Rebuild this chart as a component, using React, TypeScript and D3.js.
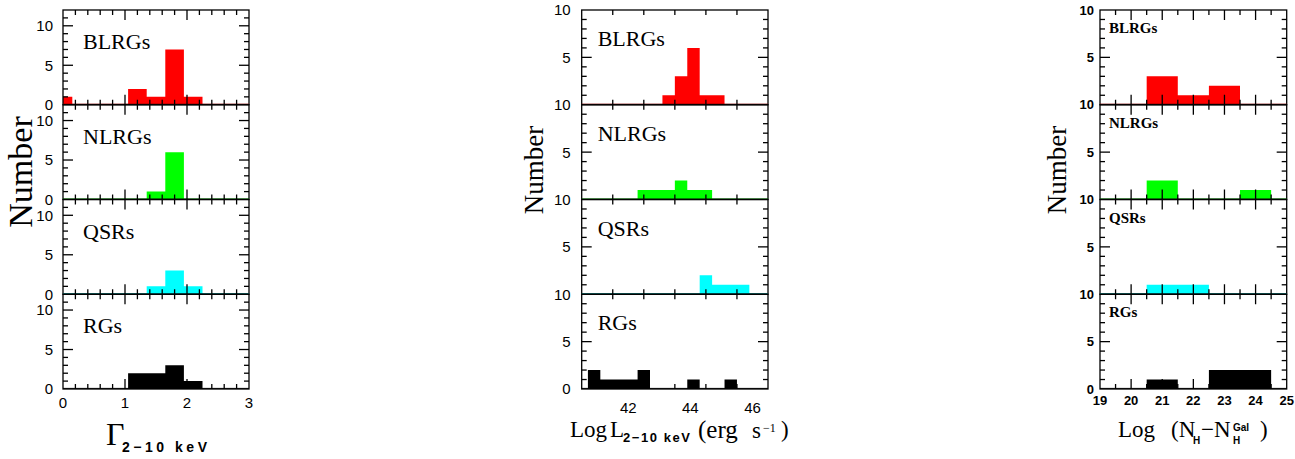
import React, { useEffect, useRef } from "react";
import * as d3 from "d3";

const categories = ["BLRGs", "NLRGs", "QSRs", "RGs"];
const colors = ["#ff0000", "#00ff00", "#00ffff", "#000000"];
const baseColors = ["#7a0000", "#006a00", "#006a6a", "#000000"];

// photon index, bins of 0.3
const gammaEdges = [-0.15, 0.15, 0.45, 0.75, 1.05, 1.35, 1.65, 1.95, 2.25, 2.55];
const gammaBLRG = [1, 0, 0, 0, 2, 1, 7, 1, 0];
const gammaNLRG = [0, 0, 0, 0, 0, 1, 6, 0, 0];
const gammaQSR = [0, 0, 0, 0, 0, 1, 3, 1, 0];
const gammaRG = [0, 0, 0, 0, 2, 2, 3, 1, 0];

// log L(2-10 keV), bins of 0.4
const lumEdges = [40.7, 41.1, 41.5, 41.9, 42.3, 42.7, 43.1, 43.5, 43.9, 44.3, 44.7, 45.1, 45.5, 45.9];
const lumBLRG = [0, 0, 0, 0, 0, 0, 1, 3, 6, 1, 1, 0, 0];
const lumNLRG = [0, 0, 0, 0, 1, 1, 1, 2, 1, 1, 0, 0, 0];
const lumQSR = [0, 0, 0, 0, 0, 0, 0, 0, 0, 2, 1, 1, 1];
const lumRG = [2, 1, 1, 1, 2, 0, 0, 0, 1, 0, 0, 1, 0];

// log intrinsic NH, bins of 1
const nhEdges = [20.5, 21.5, 22.5, 23.5, 24.5];
const nhBLRG = [3, 1, 2, 0];
const nhNLRG = [2, 0, 0, 1];
const nhQSR = [1, 1, 0, 0];
const nhRG = [1, 0, 2, 2];

const gammaTicks = [0, 1, 2, 3];
const lumTicks = [42, 44, 46];
const nhTicks = [19, 20, 21, 22, 23, 24, 25];
const yTicks = [0, 5, 10];

const TOP = 10;
const BOTTOM = 389;
const SANS = "'Liberation Sans', Arial, sans-serif";
const SERIF = "'Liberation Serif', 'Times New Roman', serif";

const columns = [
  {
    x0: 63, x1: 249, domain: [0, 3], yMax: 12, major: 1, minor: 0.2,
    edges: gammaEdges, counts: [gammaBLRG, gammaNLRG, gammaQSR, gammaRG], ticks: gammaTicks,
    tickSize: 15, bold: false, gap: 10, xLabelY: 408,
    catX: 20, catY: 39, catSize: 22, catBold: false,
  },
  {
    x0: 581.7, x1: 768, domain: [40.5, 46.5], yMax: 10, major: 2, minor: 1,
    edges: lumEdges, counts: [lumBLRG, lumNLRG, lumQSR, lumRG], ticks: lumTicks,
    tickSize: 15, bold: false, gap: 11, xLabelY: 413,
    catX: 16, catY: 36, catSize: 22, catBold: false,
  },
  {
    x0: 1100, x1: 1286.7, domain: [19, 25], yMax: 10, major: 1, minor: 0.5,
    edges: nhEdges, counts: [nhBLRG, nhNLRG, nhQSR, nhRG], ticks: nhTicks,
    tickSize: 13, bold: true, gap: 6, xLabelY: 405,
    catX: 9, catY: 23, catSize: 15, catBold: true,
  },
];

export default function App() {
  const ref = useRef<SVGGElement | null>(null);

  useEffect(() => {
    const svg = d3.select(ref.current);
    svg.selectAll("*").remove();
    const ph = (BOTTOM - TOP) / 4;

    columns.forEach((col, ci) => {
      const x = d3.scaleLinear().domain(col.domain).range([col.x0, col.x1]);
      const clipId = `clip${ci}`;
      svg.append("clipPath").attr("id", clipId)
        .append("rect").attr("x", col.x0).attr("y", TOP)
        .attr("width", col.x1 - col.x0).attr("height", BOTTOM - TOP);

      categories.forEach((cat, pi) => {
        const pt = TOP + pi * ph;
        const pb = pt + ph;
        const y = d3.scaleLinear().domain([0, col.yMax]).range([pb, pt]);
        const g = svg.append("g");
        const counts = col.counts[pi];

        // histogram
        const pts = counts.map((c, i) => [col.edges[i], c] as [number, number]);
        pts.push([col.edges[col.edges.length - 1], counts[counts.length - 1]]);
        const area = d3.area<[number, number]>()
          .x((d) => x(d[0])).y0(y(0)).y1((d) => y(d[1]))
          .curve(d3.curveStepAfter);
        g.append("path").attr("d", area(pts) as string)
          .attr("fill", colors[pi]).attr("clip-path", `url(#${clipId})`);

        // frame
        g.append("rect").attr("x", col.x0).attr("y", pt)
          .attr("width", col.x1 - col.x0).attr("height", ph)
          .attr("fill", "none").attr("stroke", "#000").attr("stroke-width", 1.3);
        g.append("line").attr("x1", col.x0).attr("x2", col.x1)
          .attr("y1", pb - 0.6).attr("y2", pb - 0.6)
          .attr("stroke", baseColors[pi]).attr("stroke-width", 1);

        // x ticks, top and bottom
        const minors = d3.range(col.domain[0], col.domain[1] + 1e-6, col.minor)
          .filter((v) => v > col.domain[0] + 1e-6 && v < col.domain[1] - 1e-6);
        minors.forEach((v) => {
          const isMajor = Math.abs(v / col.major - Math.round(v / col.major)) < 1e-6;
          const len = isMajor ? 10 : 5;
          g.append("line").attr("x1", x(v)).attr("x2", x(v))
            .attr("y1", pb).attr("y2", pb - len).attr("stroke", "#000").attr("stroke-width", 1.3);
          g.append("line").attr("x1", x(v)).attr("x2", x(v))
            .attr("y1", pt).attr("y2", pt + len).attr("stroke", "#000").attr("stroke-width", 1.3);
        });

        // y ticks, left and right
        d3.range(1, col.yMax).forEach((v) => {
          const len = v % 5 === 0 ? 10 : 5;
          [[col.x0, 1], [col.x1, -1]].forEach(([xx, s]) => {
            g.append("line").attr("x1", xx).attr("x2", xx + s * len)
              .attr("y1", y(v)).attr("y2", y(v)).attr("stroke", "#000").attr("stroke-width", 1.3);
          });
        });

        // y tick labels; a "0" that would sit under the next panel's "10" is left out
        yTicks
          .filter((v) => !(v === 0 && pi < 3 && col.yMax === 10))
          .forEach((v) => {
            g.append("text").attr("x", col.x0 - col.gap).attr("y", y(v))
              .attr("dy", "0.36em").attr("text-anchor", "end")
              .attr("font-family", SANS).attr("font-size", col.tickSize)
              .attr("font-weight", col.bold ? "bold" : "normal")
              .text(v);
          });

        // category label
        g.append("text").attr("x", col.x0 + col.catX).attr("y", pt + col.catY)
          .attr("font-family", SERIF).attr("font-size", col.catSize)
          .attr("font-weight", col.catBold ? "bold" : "normal")
          .text(cat);

        if (pi === 3) {
          col.ticks.forEach((v) => {
            g.append("text").attr("x", x(v)).attr("y", col.xLabelY)
              .attr("text-anchor", "middle")
              .attr("font-family", SANS).attr("font-size", col.tickSize)
              .attr("font-weight", col.bold ? "bold" : "normal")
              .text(v);
          });
        }
      });
    });
  }, []);

  return (
    <svg width={1295} height={459}
      style={{ position: "absolute", left: 0, top: 0, background: "#fff" }}>
      <g ref={ref} />
      {/* y titles */}
      <text transform="translate(32,172) rotate(-90)" textAnchor="middle"
        fontFamily={SERIF} fontSize={34}>Number</text>
      <text transform="translate(543,170) rotate(-90)" textAnchor="middle"
        fontFamily={SERIF} fontSize={27}>Number</text>
      <text transform="translate(1066,170) rotate(-90)" textAnchor="middle"
        fontFamily={SERIF} fontSize={27}>Number</text>

      {/* x titles */}
      <text x={106} y={445} fontFamily={SERIF} fontSize={32}>Γ</text>
      <text x={122} y={452} fontFamily={SANS} fontSize={14} fontWeight="bold"
        textLength={85} lengthAdjust="spacing">2−10 keV</text>

      <text x={570} y={437} fontFamily={SERIF} fontSize={23}>Log</text>
      <text x={610} y={437} fontFamily={SERIF} fontSize={23}>L</text>
      <text x={623} y={442} fontFamily={SANS} fontSize={13} fontWeight="bold"
        textLength={67} lengthAdjust="spacing">2−10 keV</text>
      <text x={698} y={438} fontFamily={SERIF} fontSize={25}>(erg</text>
      <text x={752} y={438} fontFamily={SERIF} fontSize={23}>s</text>
      <text x={763} y={432} fontFamily={SERIF} fontSize={12}>−1</text>
      <text x={781} y={437} fontFamily={SERIF} fontSize={23}>)</text>

      <text x={1118} y={437} fontFamily={SERIF} fontSize={23}>Log</text>
      <text x={1171} y={437} fontFamily={SERIF} fontSize={23}>(N</text>
      <text x={1193} y={444} fontFamily={SANS} fontSize={10} fontWeight="bold">H</text>
      <text x={1201} y={437} fontFamily={SERIF} fontSize={23}>−N</text>
      <text x={1233} y={431} fontFamily={SANS} fontSize={10} fontWeight="bold">Gal</text>
      <text x={1233} y={444} fontFamily={SANS} fontSize={10} fontWeight="bold">H</text>
      <text x={1260} y={437} fontFamily={SERIF} fontSize={23}>)</text>
    </svg>
  );
}
